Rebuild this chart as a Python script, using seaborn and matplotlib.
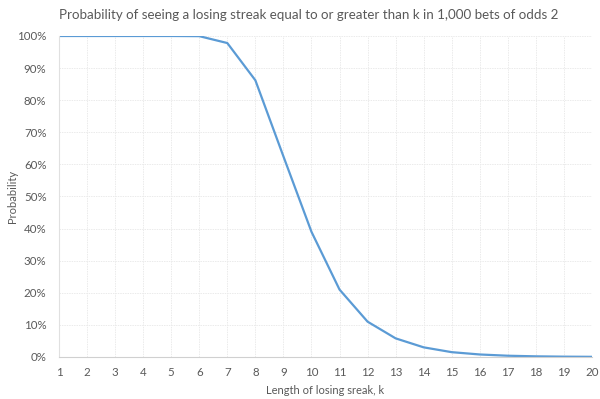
import matplotlib
matplotlib.use("Agg")
import matplotlib.pyplot as plt
import seaborn as sns
import pandas as pd
from matplotlib.ticker import PercentFormatter

# Probability of a losing streak >= k in 1,000 bets (odds 2)
streak_k = list(range(1, 21))
probability = [1.0, 1.0, 1.0, 1.0, 1.0, 0.9995, 0.978, 0.862, 0.625, 0.39,
               0.21, 0.11, 0.058, 0.03, 0.015, 0.0078, 0.0039, 0.002, 0.001, 0.0005]

df = pd.DataFrame({"k": streak_k, "Probability": probability})

sns.set_style("white")
plt.rcParams["font.family"] = ["Lato", "DejaVu Sans"]

fig = plt.figure(figsize=(6, 3.99), dpi=100)
ax = fig.add_axes([0.0983, 0.1053, 0.8884, 0.8045])

sns.lineplot(data=df, x="k", y="Probability", color="#5B9BD5", linewidth=1.6, ax=ax)

ax.set_xlim(1, 20)
ax.set_ylim(0, 1)
ax.set_xticks(streak_k)
ax.set_yticks([i / 10 for i in range(11)])
ax.yaxis.set_major_formatter(PercentFormatter(1.0, decimals=0))

ax.grid(True, color="#ebebeb", linestyle=(0, (1.5, 1)), linewidth=0.7)
for side in ["top", "right"]:
    ax.spines[side].set_visible(False)
ax.spines["left"].set_color("#e0e0e0")
ax.spines["bottom"].set_color("#d0d0d0")
ax.tick_params(axis="both", length=0, labelsize=8.3, colors="#595959")
ax.tick_params(axis="y", pad=9)
ax.tick_params(axis="x", pad=7)

fig.text(0.515, 0.962, "Probability of seeing a losing streak equal to or greater than k in 1,000 bets of odds 2",
         fontsize=9.6, color="#595959", ha="center", va="center")
ax.set_xlabel("Length of losing sreak, k", fontsize=8, color="#595959", va="center")
ax.set_ylabel("Probability", fontsize=8, color="#595959", va="center")
ax.xaxis.set_label_coords(0.5, -0.103)
ax.yaxis.set_label_coords(-0.088, 0.5)

fig.savefig("out.png", dpi=100)
